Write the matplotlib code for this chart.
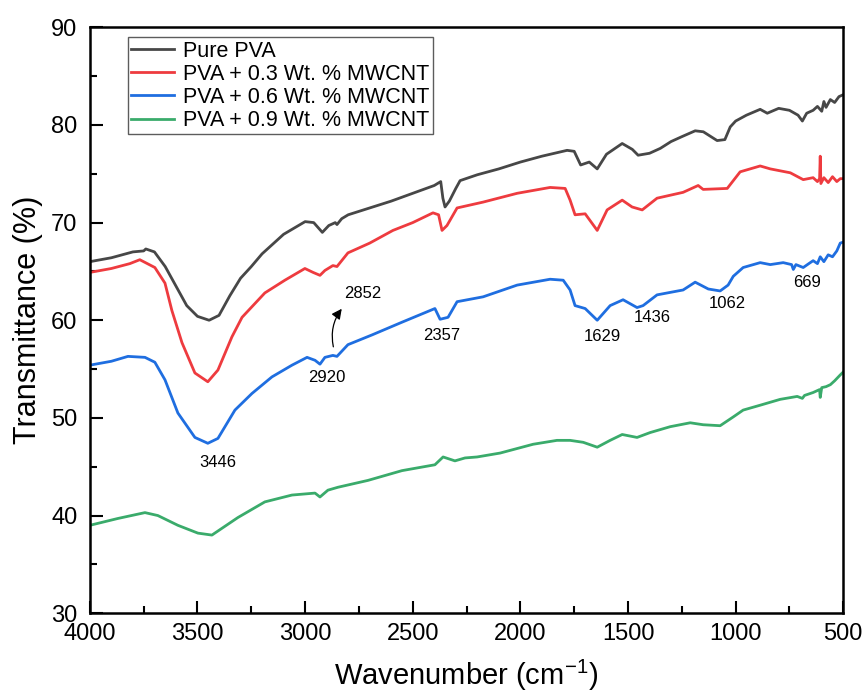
import matplotlib.pyplot as plt
import numpy as np

plt.rcParams['font.family'] = ['Liberation Sans', 'DejaVu Sans']

# Espectros FTIR (número de onda, transmitância %)
wn_pva = [4000, 3900, 3800, 3750, 3740, 3700, 3650, 3600, 3550, 3500, 3446, 3400, 3350, 3300,
          3250, 3200, 3100, 3000, 2960, 2920, 2890, 2860, 2852, 2830, 2800, 2700, 2600, 2500,
          2400, 2370, 2360, 2350, 2330, 2300, 2280, 2200, 2100, 2000, 1900, 1783, 1750, 1720,
          1680, 1643, 1600, 1527, 1480, 1453, 1400, 1350, 1300, 1250, 1188, 1150, 1086, 1050,
          1025, 1000, 950, 886, 853, 800, 750, 710, 690, 670, 640, 620, 600, 590, 580, 560,
          540, 520, 500]
t_pva = [66.0, 66.4, 67.0, 67.1, 67.3, 67.0, 65.5, 63.5, 61.5, 60.4, 60.0, 60.5, 62.5, 64.3,
         65.5, 66.8, 68.8, 70.1, 70.0, 69.0, 69.7, 70.0, 69.8, 70.4, 70.8, 71.5, 72.2, 73.0,
         73.8, 74.2, 72.5, 71.6, 72.2, 73.5, 74.3, 74.9, 75.5, 76.2, 76.8, 77.4, 77.3, 75.9,
         76.2, 75.5, 77.0, 78.1, 77.5, 76.9, 77.1, 77.6, 78.3, 78.8, 79.4, 79.3, 78.4, 78.5,
         79.8, 80.4, 81.0, 81.6, 81.2, 81.7, 81.5, 81.0, 80.4, 81.2, 81.5, 81.9, 81.4, 82.4,
         81.8, 82.6, 82.3, 82.9, 83.1]

wn_03 = [4000, 3900, 3814, 3768, 3698, 3651, 3619, 3572, 3512, 3452, 3405, 3340, 3293, 3187,
         3094, 3001, 2963, 2931, 2908, 2871, 2852, 2801, 2700, 2592, 2500, 2406, 2380, 2364,
         2341, 2294, 2173, 2015, 1862, 1792, 1769, 1746, 1699, 1643, 1597, 1527, 1481, 1434,
         1365, 1244, 1174, 1151, 1039, 979, 886, 839, 746, 686, 640, 620, 610, 607, 604, 590,
         570, 550, 530, 514, 500]
t_03 = [64.9, 65.3, 65.8, 66.2, 65.4, 63.8, 61.0, 57.7, 54.6, 53.7, 54.9, 58.3, 60.3, 62.8,
        64.1, 65.3, 64.9, 64.6, 65.1, 65.6, 65.5, 66.9, 67.9, 69.2, 70.0, 71.0, 70.8, 69.2,
        69.7, 71.5, 72.1, 73.0, 73.6, 73.5, 72.3, 70.8, 70.9, 69.2, 71.3, 72.3, 71.6, 71.3,
        72.5, 73.1, 73.8, 73.4, 73.5, 75.2, 75.8, 75.5, 75.1, 74.4, 74.6, 74.2, 74.5, 76.8,
        74.0, 74.6, 74.1, 74.7, 74.2, 74.5, 74.5]

wn_06 = [4000, 3900, 3823, 3744, 3698, 3651, 3591, 3512, 3452, 3405, 3326, 3247, 3154, 3061,
         2991, 2954, 2931, 2908, 2871, 2852, 2801, 2689, 2550, 2397, 2373, 2336, 2294, 2173,
         2015, 1862, 1801, 1769, 1746, 1699, 1643, 1583, 1523, 1458, 1430, 1365, 1244, 1188,
         1127, 1072, 1035, 1011, 965, 886, 839, 779, 740, 732, 720, 686, 660, 640, 620, 607,
         590, 570, 550, 530, 514, 500]
t_06 = [55.4, 55.8, 56.3, 56.2, 55.7, 53.9, 50.5, 48.0, 47.4, 47.9, 50.8, 52.5, 54.2, 55.4,
        56.2, 55.9, 55.5, 56.2, 56.4, 56.3, 57.5, 58.5, 59.8, 61.2, 60.1, 60.3, 61.9, 62.4,
        63.6, 64.2, 64.1, 63.1, 61.5, 61.2, 60.0, 61.5, 62.1, 61.3, 61.5, 62.6, 63.1, 63.9,
        63.2, 63.0, 63.6, 64.5, 65.4, 65.9, 65.7, 65.9, 65.7, 65.2, 65.7, 65.4, 65.8, 66.1,
        65.8, 66.5, 66.0, 66.7, 66.5, 67.1, 67.9, 68.0]

wn_09 = [4000, 3870, 3744, 3684, 3591, 3498, 3433, 3386, 3312, 3187, 3061, 2954, 2931, 2894,
         2847, 2708, 2550, 2397, 2359, 2304, 2257, 2201, 2094, 1941, 1830, 1769, 1708, 1643,
         1583, 1527, 1458, 1397, 1304, 1211, 1151, 1072, 1011, 965, 886, 793, 714, 690, 680,
         640, 610, 607, 600, 580, 560, 540, 514, 500]
t_09 = [39.0, 39.7, 40.3, 40.0, 39.0, 38.2, 38.0, 38.7, 39.8, 41.4, 42.1, 42.3, 41.9, 42.6,
        42.9, 43.6, 44.6, 45.2, 46.0, 45.6, 45.9, 46.0, 46.4, 47.3, 47.7, 47.7, 47.5, 47.0,
        47.7, 48.3, 48.0, 48.5, 49.1, 49.5, 49.3, 49.2, 50.1, 50.8, 51.3, 51.9, 52.2, 52.0,
        52.3, 52.6, 52.9, 52.1, 53.1, 53.2, 53.4, 53.8, 54.4, 54.7]

legendas = ['Pure PVA', 'PVA + 0.3 Wt. % MWCNT', 'PVA + 0.6 Wt. % MWCNT', 'PVA + 0.9 Wt. % MWCNT']
cores = ['#474747', '#ee3b3f', '#1f6ee0', '#3aab6b']

# picos marcados na curva azul: (texto, x, y)
picos = [('3446', 3405, 45.4), ('2920', 2898, 54.1), ('2357', 2364, 58.4), ('1629', 1620, 58.3),
         ('1436', 1388, 60.3), ('1062', 1039, 61.7), ('669', 667, 63.9)]

fig = plt.figure(figsize=(8.64, 7.0), dpi=100)
ax = fig.add_axes([0.104, 0.124, 0.872, 0.837])

for wn, t, lab, c in zip([wn_pva, wn_03, wn_06, wn_09], [t_pva, t_03, t_06, t_09], legendas, cores):
    ax.plot(wn, t, color=c, lw=2, label=lab)

for txt, x, y in picos:
    ax.text(x, y, txt, fontsize=12, ha='center', va='center')

ax.text(2731, 62.7, '2852', fontsize=12, ha='center', va='center')
ax.annotate('', xy=(2822, 61.4), xytext=(2866, 57.0),
            arrowprops=dict(arrowstyle='-|>', color='black', lw=0.9, mutation_scale=15,
                            connectionstyle='arc3,rad=-0.25'))

ax.set_xlim(4000, 500)
ax.set_ylim(30, 90)
ax.set_xticks(np.arange(4000, 499, -500))
ax.set_xticks(np.arange(3750, 500, -500), minor=True)
ax.set_yticks(np.arange(30, 91, 10))
ax.set_yticks(np.arange(35, 90, 10), minor=True)
ax.tick_params(which='major', direction='in', length=9, width=1.5, labelsize=17)
ax.tick_params(axis='x', which='major', pad=7)
ax.tick_params(axis='y', which='major', pad=9)
ax.tick_params(which='minor', direction='in', length=5, width=1.5)
for s in ax.spines.values():
    s.set_linewidth(1.8)

ax.set_xlabel('Wavenumber (cm$^{\\mathregular{-1}}$)', fontsize=21, labelpad=9)
ax.set_ylabel('Transmittance (%)', fontsize=22, labelpad=6)

leg = ax.legend(loc='upper left', bbox_to_anchor=(0.045, 0.99), fontsize=15.5, frameon=True,
                fancybox=False, edgecolor='#333333', borderpad=0.15, labelspacing=0.1,
                handlelength=2.0, handletextpad=0.4, borderaxespad=0.2)
leg.get_frame().set_linewidth(1.0)

plt.savefig('out.png', dpi=100)
